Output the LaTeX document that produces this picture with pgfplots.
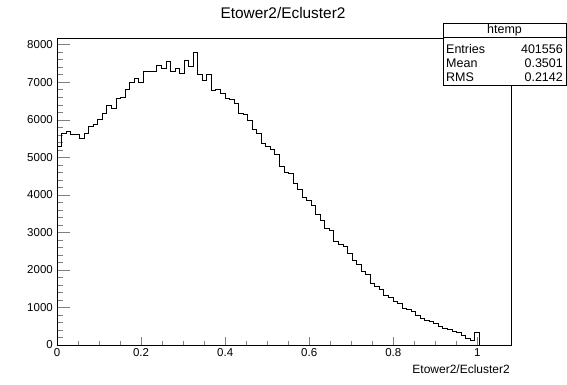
\documentclass[border=0pt]{standalone}
\usepackage{fontspec}
\setmainfont{Liberation Sans}
\usepackage{pgfplots}
\pgfplotsset{compat=1.18}
\begin{document}
\begin{tikzpicture}[x=1bp,y=1bp]
\useasboundingbox (-57,-39) rectangle (510,345);
\begin{axis}[
  at={(0,0)}, anchor=south west,
  scale only axis, width=454bp, height=307bp,
  xmin=0, xmax=1.08, ymin=0, ymax=8180,
  axis line style={line width=0.8bp},
  tick align=inside,
  xtick pos=bottom, ytick pos=left,
  xtick={0,0.2,0.4,0.6,0.8,1},
  ytick={0,1000,2000,3000,4000,5000,6000,7000,8000},
  minor x tick num=3, minor y tick num=4,
  xtick style={line width=0.6bp,/pgfplots/major tick length=8bp,/pgfplots/minor tick length=4bp},
  ytick style={line width=0.6bp,/pgfplots/major tick length=13bp,/pgfplots/minor tick length=6bp},
  scaled ticks=false,
  /pgf/number format/assume math mode=true,
  /pgf/number format/1000 sep={},
  ticklabel style={font=\fontsize{11.5bp}{13bp}\selectfont},
  xticklabel style={anchor=north, inner sep=0pt, yshift=-3bp},
  yticklabel style={anchor=east, inner sep=0pt, xshift=-4bp},
]
\addplot[const plot mark left, black, line width=0.9bp, mark=none] coordinates {
(0,5290) (0.0108,5630) (0.0216,5690) (0.0324,5600) (0.0432,5620)
(0.054,5510) (0.0648,5645) (0.0756,5820) (0.0864,5870) (0.0972,6000)
(0.108,6160) (0.1188,6380) (0.1296,6310) (0.1404,6580) (0.1512,6600)
(0.162,6820) (0.1728,6985) (0.1836,7115) (0.1944,6990) (0.2052,7280)
(0.216,7300) (0.2268,7300) (0.2376,7440) (0.2484,7370) (0.2592,7550)
(0.27,7300) (0.2808,7380) (0.2916,7230) (0.3024,7570) (0.3132,7410)
(0.324,7790) (0.3348,7200) (0.3456,7040) (0.3564,7200) (0.3672,6775)
(0.378,6800) (0.3888,6710) (0.3996,6580) (0.4104,6550) (0.4212,6430)
(0.432,6170) (0.4428,6140) (0.4536,5980) (0.4644,5750) (0.4752,5645)
(0.486,5380) (0.4968,5290) (0.5076,5200) (0.5184,5067) (0.5292,4765)
(0.54,4610) (0.5508,4580) (0.5616,4300) (0.5724,4133) (0.5832,3938)
(0.594,3850) (0.6048,3707) (0.6156,3467) (0.6264,3307) (0.6372,3111)
(0.648,3049) (0.6588,2756) (0.6696,2667) (0.6804,2622) (0.6912,2427)
(0.702,2249) (0.7128,2151) (0.7236,1956) (0.7344,1867) (0.7452,1645)
(0.756,1573) (0.7668,1467) (0.7776,1333) (0.7884,1271) (0.7992,1173)
(0.81,1111) (0.8208,978) (0.8316,951) (0.8424,889) (0.8532,800)
(0.864,711) (0.8748,660) (0.8856,640) (0.8964,578) (0.9072,489)
(0.918,444) (0.9288,420) (0.9396,373) (0.9504,333) (0.9612,249)
(0.972,178) (0.9828,116) (0.9936,338) (1.0044,0) (1.08,0)
};
\end{axis}
% title
\node[font=\fontsize{15.4bp}{18bp}\selectfont, anchor=base] at (226,327) {Etower2/Ecluster2};
% x label
\node[font=\fontsize{12bp}{14bp}\selectfont, anchor=base east, inner sep=0pt] at (453,-28) {Etower2/Ecluster2};
% stats box
\draw[fill=white, line width=0.8bp] (386,260) rectangle (509,322);
\draw[line width=0.8bp] (386,308) -- (509,308);
\begin{scope}[every node/.style={font=\fontsize{12.5bp}{14bp}\selectfont, inner sep=0pt}]
\node[anchor=base] at (447.5,312) {htemp};
\node[anchor=base west] at (389,292) {Entries};
\node[anchor=base east] at (506,292) {401556};
\node[anchor=base west] at (389,278) {Mean};
\node[anchor=base east] at (506,278) {0.3501};
\node[anchor=base west] at (389,263.5) {RMS};
\node[anchor=base east] at (506,263.5) {0.2142};
\end{scope}
\end{tikzpicture}
\end{document}
